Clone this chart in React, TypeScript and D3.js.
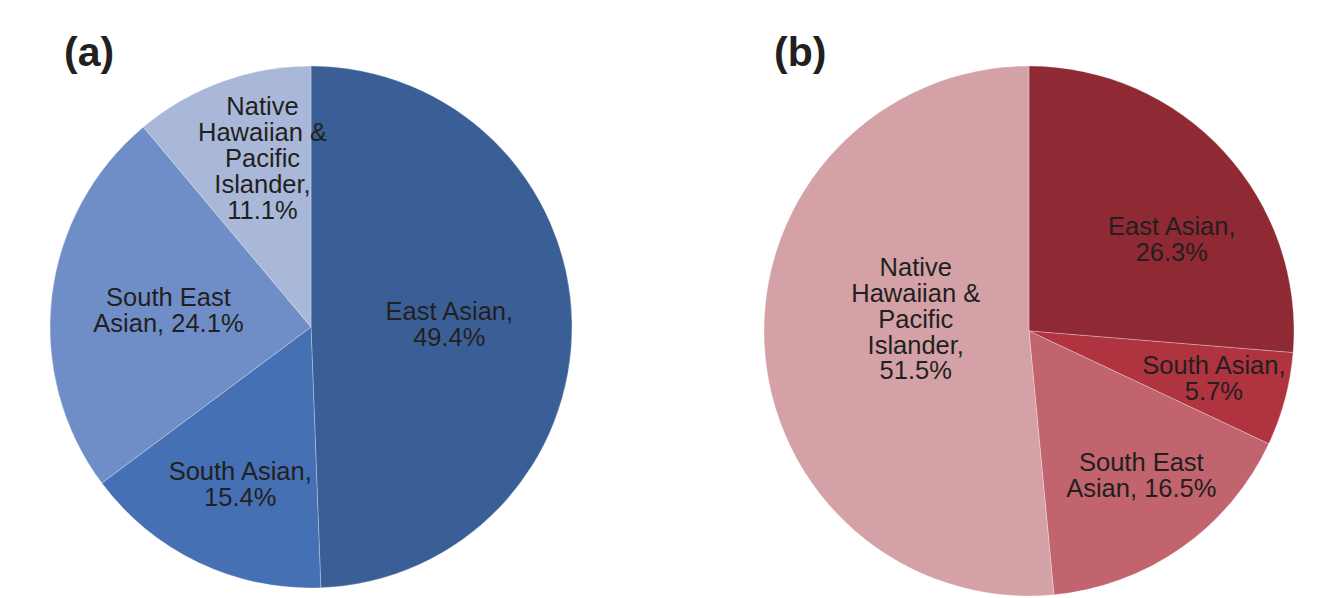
import React from "react";
import * as d3 from "d3";

const categories = ["East Asian", "South Asian", "South East Asian", "Native Hawaiian & Pacific Islander"];
const valuesA = [49.4, 15.4, 24.1, 11.1];
const valuesB = [26.3, 5.7, 16.5, 51.5];
const labelLinesA = [
  ["East Asian,", "49.4%"],
  ["South Asian,", "15.4%"],
  ["South East", "Asian, 24.1%"],
  ["Native", "Hawaiian &", "Pacific", "Islander,", "11.1%"],
];
const labelLinesB = [
  ["East Asian,", "26.3%"],
  ["South Asian,", "5.7%"],
  ["South East", "Asian, 16.5%"],
  ["Native", "Hawaiian &", "Pacific", "Islander,", "51.5%"],
];
const colorsA = ["#3a5f96", "#4570b4", "#6f8ec7", "#a9b8d8"];
const colorsB = ["#8f2a35", "#b0343f", "#c1646d", "#d4a2a6"];
// label placement: fraction of radius and angle offset (degrees) from slice mid-angle
const labelRA = [0.53, 0.66, 0.55, 0.675];
const labelOffA = [0, -1.3, 0, 4];
const labelRB = [0.64, 0.72, 0.69, 0.43];
const labelOffB = [10, -0.7, -2.8, 9];

const FONT = "'Liberation Sans', Arial, Helvetica, sans-serif";
const FS = 25.5;
const LH = 26;

function Pie({ cx, cy, r, values, colors, lines, lr, loff, title, tx }: any) {
  const pie = d3.pie<number>().sort(null).value((d) => d)(values);
  const arc = d3.arc<d3.PieArcDatum<number>>().innerRadius(0).outerRadius(r);
  return (
    <g>
      <text x={tx} y={66} fontFamily={FONT} fontWeight="bold" fontSize={41} fill="#231f20">
        {title}
      </text>
      <g transform={`translate(${cx},${cy})`}>
        {pie.map((p, i) => (
          <path key={i} d={arc(p) || ""} fill={colors[i]} stroke="#ffffff" strokeOpacity={0.35} strokeWidth={0.8} />
        ))}
        {pie.map((p, i) => {
          const mid = (p.startAngle + p.endAngle) / 2 + (loff[i] * Math.PI) / 180;
          const d = lr[i] * r;
          const x = Math.sin(mid) * d;
          const y = -Math.cos(mid) * d;
          const n = lines[i].length;
          const blockH = (n - 1) * LH + 18;
          const firstBase = y - blockH / 2 + 18;
          return (
            <text key={"l" + i} fontFamily={FONT} fontSize={FS} fill="#231f20" textAnchor="middle">
              {lines[i].map((ln: string, j: number) => (
                <tspan key={j} x={x} y={firstBase + j * LH}>
                  {ln}
                </tspan>
              ))}
            </text>
          );
        })}
      </g>
    </g>
  );
}

export default function App() {
  return (
    <svg width={1320} height={598} style={{ position: "absolute", left: 0, top: 0 }} xmlns="http://www.w3.org/2000/svg">
      <rect width={1320} height={598} fill="#ffffff" />
      <Pie cx={311} cy={327} r={261} values={valuesA} colors={colorsA} lines={labelLinesA} lr={labelRA} loff={labelOffA} title="(a)" tx={64} />
      <Pie cx={1029} cy={331} r={265} values={valuesB} colors={colorsB} lines={labelLinesB} lr={labelRB} loff={labelOffB} title="(b)" tx={774} />
    </svg>
  );
}
